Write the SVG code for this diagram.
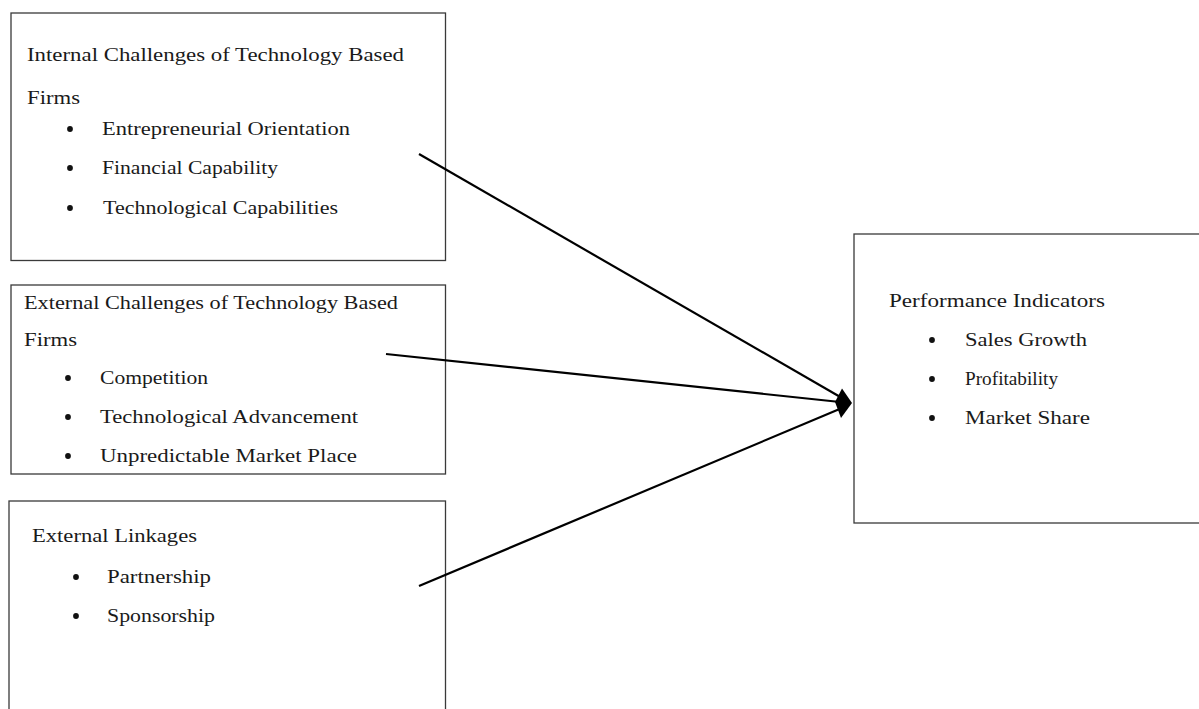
<svg xmlns="http://www.w3.org/2000/svg" width="1199" height="709" viewBox="0 0 1199 709">
  <style>
    .box { fill: #ffffff; stroke: #3a3a3a; stroke-width: 1.3; }
    .t { font-family: "Liberation Serif", "Times New Roman", serif; font-size: 19px; fill: #1a1a1a; }
    .b { fill: #111111; }
    .edge { stroke: #000000; stroke-width: 2.2; fill: none; }
  </style>
  <rect width="1199" height="709" fill="#ffffff"/>

  <g id="node-internal">
    <rect class="box" x="11" y="13" width="434.5" height="247.5"/>
    <text class="t" x="27" y="61" textLength="377" lengthAdjust="spacingAndGlyphs">Internal Challenges of Technology Based</text>
    <text class="t" x="27" y="104" textLength="53" lengthAdjust="spacingAndGlyphs">Firms</text>
    <circle class="b" cx="70" cy="129" r="2.9"/>
    <text class="t" x="102" y="135" textLength="248" lengthAdjust="spacingAndGlyphs">Entrepreneurial Orientation</text>
    <circle class="b" cx="70" cy="168" r="2.9"/>
    <text class="t" x="102" y="174" textLength="176" lengthAdjust="spacingAndGlyphs">Financial Capability</text>
    <circle class="b" cx="70" cy="208" r="2.9"/>
    <text class="t" x="103" y="214" textLength="235" lengthAdjust="spacingAndGlyphs">Technological Capabilities</text>
  </g>

  <g id="node-external">
    <rect class="box" x="11" y="285" width="434.5" height="189"/>
    <text class="t" x="24" y="309" textLength="374" lengthAdjust="spacingAndGlyphs">External Challenges of Technology Based</text>
    <text class="t" x="24" y="346" textLength="53" lengthAdjust="spacingAndGlyphs">Firms</text>
    <circle class="b" cx="68" cy="378" r="2.9"/>
    <text class="t" x="100" y="384" textLength="108" lengthAdjust="spacingAndGlyphs">Competition</text>
    <circle class="b" cx="68" cy="417" r="2.9"/>
    <text class="t" x="100" y="423" textLength="258" lengthAdjust="spacingAndGlyphs">Technological Advancement</text>
    <circle class="b" cx="68" cy="456" r="2.9"/>
    <text class="t" x="100" y="462" textLength="257" lengthAdjust="spacingAndGlyphs">Unpredictable Market Place</text>
  </g>

  <g id="node-linkages">
    <rect class="box" x="9" y="501" width="436.5" height="220"/>
    <text class="t" x="32" y="542" textLength="165" lengthAdjust="spacingAndGlyphs">External Linkages</text>
    <circle class="b" cx="76" cy="577" r="2.9"/>
    <text class="t" x="107" y="583" textLength="104" lengthAdjust="spacingAndGlyphs">Partnership</text>
    <circle class="b" cx="76" cy="616" r="2.9"/>
    <text class="t" x="107" y="622" textLength="108" lengthAdjust="spacingAndGlyphs">Sponsorship</text>
  </g>

  <g id="node-performance">
    <rect class="box" x="854" y="234" width="360" height="289"/>
    <text class="t" x="889" y="307" textLength="216" lengthAdjust="spacingAndGlyphs">Performance Indicators</text>
    <circle class="b" cx="932" cy="340" r="2.9"/>
    <text class="t" x="965" y="346" textLength="122" lengthAdjust="spacingAndGlyphs">Sales Growth</text>
    <circle class="b" cx="932" cy="379" r="2.9"/>
    <text class="t" x="965" y="385" textLength="93" lengthAdjust="spacingAndGlyphs">Profitability</text>
    <circle class="b" cx="932" cy="418" r="2.9"/>
    <text class="t" x="965" y="424" textLength="125" lengthAdjust="spacingAndGlyphs">Market Share</text>
  </g>

  <g id="connectors">
    <line class="edge" x1="419" y1="154" x2="842" y2="398"/>
    <line class="edge" x1="386" y1="354" x2="840" y2="402"/>
    <line class="edge" x1="419" y1="586" x2="842" y2="408"/>
    <polygon fill="#000000" points="852,403 842,388.5 835,402 841,418"/>
  </g>
</svg>
